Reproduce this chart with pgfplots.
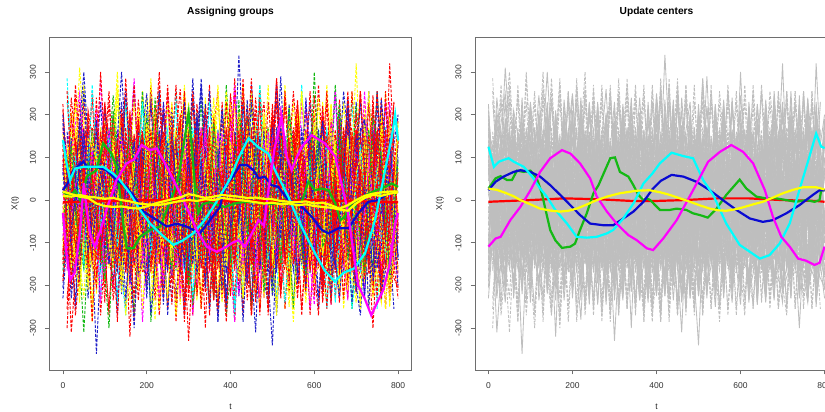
\documentclass[border=0pt]{standalone}
\usepackage{fontspec}
\setmainfont{Liberation Sans}
\usepackage{pgfplots}
\usepackage{pgfplotstable}
\pgfplotsset{compat=1.18}
\definecolor{rred}{RGB}{255,0,0}
\definecolor{ryellow}{RGB}{255,255,0}
\definecolor{rcyan}{RGB}{0,255,255}
\definecolor{rmagenta}{RGB}{255,0,255}
\definecolor{rgreen}{RGB}{20,185,20}
\definecolor{rblue}{RGB}{10,10,210}
\definecolor{bblue}{RGB}{30,30,200}
\definecolor{rgray}{RGB}{190,190,190}
\definecolor{rframe}{RGB}{110,110,110}

\pgfplotstableread{
0    -120 85 160 -45 210 -180 30 -95 140 -230  60 -15 190 -140 105 -70 225 -30 -165 75  120 -205 15 -110 170 -55 95 -150 45 200  -85 130 -10 -190 65 155 -125 20 -60 180
20   35 -150 90 170 -60 -20 -210 130 -75 50  185 -120 -40 240 -95 10 -175 115 60 -230  -15 145 -80 205 -135 25 -190 80 160 -45  110 -310 70 15 -110 -160 195 -30 125 -70
40   -200 40 -85 120 155 -130 75 -20 310 -110  -45 95 -170 30 180 -215 5 -90 140 -25  230 -60 -145 100 -5 165 -120 -70 20 -180  250 -35 -95 135 190 -15 55 -240 -130 85
60   150 -95 15 -160 80 210 -55 -185 20 130  -100 175 55 -60 -230 120 -25 195 -110 150  -70 40 185 -210 95 -140 60 175 -90 115  -20 -155 205 -45 10 -200 -75 145 90 -120
80   -40 180 -210 65 -15 95 160 40 -125 -60  215 -180 110 -5 30 -140 170 -220 85 -100  -35 190 -90 60 -175 240 -15 -45 130 -360  70 110 -135 -80 160 45 -200 100 -25 10
100  90 -30 125 -190 230 -70 -110 205 60 -170  -20 80 -240 145 -65 185 -95 50 -10 220  -150 -75 120 -20 35 -105 180 -205 -55 90  -170 15 -60 225 -120 100 145 -15 -185 65
120  -160 110 -5 45 -140 165 85 -120 190 15  -210 -50 150 -95 200 -35 60 -130 245 -60  70 -185 -25 155 -90 195 -235 30 100 -125  -40 165 -200 55 -15 -85 20 -150 210 -95
140  60 -220 175 -100 40 -15 -165 95 -45 230  120 -145 -70 185 -130 55 -200 140 10 -110  195 -30 80 -175 215 -5 -60 125 -215 45  150 -90 35 -140 300 -180 -40 110 -20 170
160  -85 135 -140 205 -120 -190 110 -15 165 -80  45 200 -130 -25 75 -235 125 -55 -150 180  -10 100 -205 40 -70 130 90 -320 50 -195  -65 210 -115 95 -40 135 -165 60 155 -45
180  195 -60 50 -25 175 80 -235 145 -105 -30  -180 -10 235 -165 -55 110 -40 215 -90 -5  -125 160 30 -80 190 -150 -20 185 -100 70  120 -205 150 -25 -175 -60 85 -210 -15 130
200  -25 210 -180 90 -55 145 20 -145 30 185  -75 -200 15 100 -210 170 -130 5 200 -160  85 -40 -110 245 -55 -175 140 -10 -35 250  -140 60 -75 175 -95 -125 -15 180 -90 -230
220  120 -115 -35 -205 110 -60 190 70 -195 -115  140 95 -160 -40 155 -95 220 -185 -60 125  -235 -90 175 -30 115 50 -130 150 -280 -70  30 -150 195 -10 60 210 -105 -55 240 40
240  -175 20 225 130 -150 -5 -85 -230 95 40  -20 -90 120 215 -30 -160 15 150 -205 -45  140 230 -55 -150 25 -215 205 -95 135 -15  -195 85 -5 -125 -245 10 160 -105 -55 195
260  45 -240 -70 -55 195 225 60 115 -150 -180  75 165 -65 -120 90 25 -155 -75 130 210  -100 -20 -170 100 -195 160 -45 30 -120 155  95 -245 110 40 130 -150 -60 230 -160 -25
280  -95 150 110 175 -210 -100 -175 -40 205 -5  -235 -30 185 60 -175 135 100 -215 -20 -135  180 55 145 -245 -10 -60 -150 200 15 -100  -225 75 -170 260 -35 -10 120 -70 85 -150
300  210 -45 -150 -105 35 160 125 -195 -55 115  180 -170 -110 -215 20 -55 -330 90 165 -25  -60 -175 10 65 140 -115 85 -190 230 -165  40 -35 135 -90 -140 185 -235 15 -200 100
320  -5 -175 185 -30 -125 -215 -20 170 -235 -155  25 120 50 135 -190 210 60 -145 -95 100  225 -110 -200 150 -80 20 -175 -35 -140 195  -90 150 -225 -50 205 -70 45 -185 35 -175
340  -215 95 -55 240 150 35 -140 -60 80 205  -130 -85 -195 -10 225 -110 -185 170 35 -205  -20 120 155 -135 -170 90 180 -115 -45 -20  175 -300 40 115 -155 -30 215 90 -115 55
360  140 -205 40 -160 -75 -125 195 15 -180 -50  165 35 110 -235 -70 85 140 -5 -230 165  -185 -50 -95 185 40 -235 -90 75 205 -120  -65 190 -140 -200 65 240 -150 -25 180 -100
380  -60 55 -230 85 185 230 -40 -170 150 105  -60 -220 -25 75 -140 -195 20 -160 120 -65  110 215 -35 -20 -230 140 -115 -210 -5 85  155 -45 95 -100 -210 -95 60 -240 -20 210
400  75 -130 155 -220 -35 -70 -225 110 -5 -205  240 85 -175 170 115 -10 -115 230 -145 30  -215 -130 185 -165 60 -40 250 125 -205 -145  -30 -120 -185 200 110 15 -175 135 -140 -65
420  -190 200 -100 20 120 90 85 -210 -120 60  -90 -135 140 -55 -225 180 205 -85 -5 -175  55 -15 -140 210 160 -190 25 -80 95 340  -225 120 160 -35 -55 -185 100 -105 235 15
440  170 -10 70 -120 -195 -165 150 -5 225 -135  -185 190 -10 -190 30 -150 -55 125 195 110  -125 170 -60 -90 -130 215 -160 160 -25 -50  90 -200 -30 135 235 85 -235 175 -80 -195
460  -20 -310 -195 145 60 175 -105 155 -80 170  115 -25 -230 95 -160 60 -190 -30 -100 -230  240 -95 95 -215 75 -65 140 -120 175 15  -165 40 210 -240 -130 -115 30 -60 125 145
480  -135 165 20 -70 -110 -40 -190 -125 110 -20  -50 -190 85 230 140 -225 135 -200 60 -85  -40 75 -230 130 -175 180 -75 -30 -230 165  140 -80 -150 70 -15 205 -120 200 -215 -30
500  225 -80 -215 185 200 15 30 -35 -225 -90  150 140 -135 -150 -75 125 -10 75 -215 185  -150 -225 160 40 210 -130 5 195 50 -190  -75 180 95 -180 170 -145 120 -135 60 -340
520  -70 110 120 -15 -165 -230 215 65 170 290  -205 45 170 -80 175 -20 -140 -120 145 5  100 -55 -75 -155 -40 -5 -210 -160 110 -65  220 -125 -220 35 -90 -20 -200 70 -150 120
540  55 -190 -125 -250 70 130 -65 -180 -35 -145  75 -215 -40 190 -115 -170 190 160 -75 -145  -185 185 20 225 -215 145 -95 80 -155 125  -20 5 125 -130 225 185 -50 -225 215 -85
560  -230 -15 200 80 -95 -95 -160 200 -160 15  -40 105 220 -95 45 215 -65 -165 175 130  160 -15 -185 -105 115 -220 170 -5 200 -170  -140 235 -60 225 -195 -45 180 35 -20 90
580  100 230 -60 -125 215 60 140 -80 95 -215  165 -160 -165 25 -210 -60 110 15 -5 -210  35 -170 230 -45 -145 60 -125 -220 -85 240  105 -190 165 -75 15 -240 -20 150 -175 -160
600  -55 -120 -245 165 -35 200 -25 140 -200 180  -125 -55 75 -190 155 170 -225 210 -135 65  -80 125 -20 180 20 -170 245 120 -30 -110  -200 50 -145 110 -120 70 -190 -195 300 40
620  165 45 90 -60 -175 -215 210 -235 230 -70  205 220 -215 150 -40 -135 165 -95 85 -105  195 -210 135 -130 -185 195 -15 -75 150 40  -60 -240 10 -205 185 -125 85 -90 -110 185
640  -175 -200 -15 225 125 -130 -110 15 -45 -185  -5 -100 125 -30 -185 40 -75 60 -240 175  -200 55 -245 85 95 -80 -105 190 -200 -230  180 130 -95 55 -50 225 -245 170 -45 -140
660  10 170 -165 -185 -60 95 55 -150 135 120  -230 140 -70 -240 210 -195 235 -225 150 -35  -25 -115 190 -220 -10 -25 105 -165 55 175  -20 -170 190 -155 -225 -10 115 -5 225 -70
680  230 -85 185 20 235 -20 -200 185 -115 -20  110 -200 185 85 -110 145 -30 145 -85 -180  125 240 -60 150 -230 210 -190 30 -110 -45  -235 -50 -190 255 10 -170 -125 -210 -140 215
700  -110 60 -70 -105 -80 165 165 -95 -240 230  -165 35 -145 -140 55 -70 -215 -40 220 -25  -205 -150 -130 -40 165 110 135 -210 320 125  125 -215 60 -45 145 -205 205 65 -5 -215
720  40 -230 -205 140 -130 -175 -135 60 200 -150  190 -175 5 200 -230 230 -145 195 -30 185  70 -35 255 -185 -90 -185 20 -100 -175 190  -40 155 -185 -85 -105 175 -165 130 -170 25
740  -300 140 100 -45 155 45 95 -225 -100 55  -15 -165 225 -100 170 -125 90 -115 -155 60  -210 165 -105 10 45 245 -220 140 -70 -190  195 -60 215 160 -155 -60 30 -230 190 -180
760  80 -40 -180 195 -180 -135 -185 220 50 -240  -195 180 -145 -60 -5 -215 150 -240 95 -215  180 -230 -55 205 -175 -165 160 100 -140 -15  -160 240 -30 -195 235 175 -230 -40 100 -110
780  155 205 230 -250 65 210 -60 -20 -205 90  150 -25 -190 140 -195 180 -160 70 -185 -110  -55 30 185 -130 205 -70 -105 -235 195 60  -100 -150 -215 -35 30 -240 320 -195 -170 145
800  -100 -140 -60 75 -210 -60 190 -130 175 -130  -60 65 140 -175 100 -30 -205 -165 150 130  -155 -90 -70 160 -40 -230 55 -85 -45 200  -180 65 -40 135 -200 -25 -80 185 95 -140
}\bg

\pgfplotstableread{
10   -60 120 -150 30 230 -95 5 140 -255 70  110 -40 -130 285 -10 -165 85 -75 150 -120  25 -300 90 160 -55 40 -140 105 -20 -230  130 65 -90 -5 255 -115 50 -160 15 95
30   140 -75 60 -135 -20 160 -240 15 95 -110  -165 80 35 -60 145 110 -125 270 -35 10  -95 135 -170 -25 120 -150 55 -45 240 20  -60 -255 230 100 -140 35 -15 125 -105 -270
50   -25 230 -110 85 -160 40 130 -310 -40 155  20 -135 270 -90 -65 15 150 -30 -145 170  95 -10 -85 255 -130 75 300 -160 -70 115  -230 140 -35 -150 60 -95 165 -20 80 -45
70   100 -140 170 -60 50 -285 -35 90 135 -15  -240 160 -70 30 255 -120 -50 110 65 -155  -45 240 140 -100 10 -255 -25 165 -120 -60  150 -10 -160 270 -85 125 -110 55 -285 30
90   -155 30 -45 160 -110 115 230 -80 -270 90  140 -25 95 -170 -40 285 -135 -10 -100 60  170 -130 -5 45 -230 135 -95 -30 300 -145  20 95 130 -65 -120 -240 80 -135 160 115
110  55 -270 125 -15 145 -50 -120 170 20 -140  -60 105 -160 130 80 -90 40 -255 230 -25  -110 60 255 -150 95 -20 160 -300 -55 130  -135 -45 -10 150 40 170 -150 85 -70 -5
130  -120 85 -20 -230 -75 270 60 -140 145 30  230 -270 50 -30 -135 165 -105 75 -65 140  15 -160 -115 120 -240 300 -40 90 105 -90  255 -165 120 -110 -25 -60 95 -285 135 -150
150  230 -30 -150 100 -270 -25 -165 45 -110 255  30 90 -95 230 -150 -10 255 -125 100 -170  -140 150 25 -45 140 -110 -255 55 -160 285  -85 30 -270 65 135 -15 -230 170 -35 80
170  -40 150 95 -120 130 -165 115 -270 60 -75  -115 -150 240 -85 10 135 -60 155 -285 50  120 -30 -230 270 -20 85 135 -115 40 -60  100 -300 45 -30 -160 285 30 -80 270 -125
190  90 -170 -60 255 -35 145 -85 110 -160 155  255 -45 -120 20 160 -285 -20 -135 45 -105  -255 105 150 -130 230 -60 -95 255 -140 10  -165 120 -140 230 85 -150 145 -45 -110 160
210  -240 40 165 -45 95 -120 255 -60 230 -100  -90 230 10 -150 -170 70 -155 100 -80 270  55 -165 -40 75 -135 170 45 -285 125 -155  60 -85 285 -120 -35 120 -270 165 20 -60
230  120 -110 -255 80 -150 55 -30 255 -75 20  135 -120 -230 145 50 -110 170 -270 150 -45  -120 270 -150 -10 110 -255 160 -20 -90 230  -130 255 -55 40 155 -230 -25 -140 300 -15
250  -95 270 35 -150 230 -240 -140 -15 120 -170  -35 60 130 -60 -255 240 -85 25 -160 95  230 -90 120 -165 -40 130 -270 140 60 -110  160 -40 -230 165 -95 50 135 -30 -150 255
270  160 -65 -140 120 -90 130 95 -165 -240 140  170 -240 -40 255 120 -150 45 -125 110 -255  -60 35 -285 145 230 -15 80 -155 -120 40  -270 110 100 -130 20 -160 -85 270 55 -140
290  -20 140 230 -240 45 -70 -270 120 30 -285  -150 90 255 -110 -140 100 -165 240 -45 65  135 -150 60 -80 -170 270 -130 20 255 -230  70 -160 -120 15 -270 145 230 -110 -135 95
310  240 -270 -95 40 -230 160 115 -40 -150 75  60 -135 -65 170 145 -270 140 -70 -230 240  -165 125 -30 285 40 -140 -20 -240 -75 135  -110 230 40 -230 110 -45 -150 130 255 -35
330  -130 65 -20 270 115 -135 -160 230 145 -50  -230 285 -120 -35 -95 55 -30 155 -120 -140  70 -255 170 -100 -145 85 255 -95 150 -60  165 -45 -255 125 -160 170 95 -255 -60 150
350  60 -145 270 -120 -30 75 255 -135 -75 170  140 -60 100 -255 170 -170 125 -165 80 20  -140 160 -95 130 230 -240 -110 145 -270 110  -40 -140 150 -60 45 -130 -255 85 140 -240
370  -255 165 -130 50 165 -255 -50 100 -270 -120  20 150 -230 130 -60 140 -285 90 255 -95  240 -45 125 -285 -65 145 35 -130 95 -255  270 80 -95 -150 -140 160 120 -160 -25 75
390  130 -40 55 -255 -140 120 -165 -270 165 95  -140 -170 230 20 -255 -40 160 -150 -125 170  -75 110 -230 60 150 -90 -160 270 -140 165  -155 -255 255 105 230 -65 -230 130 -285 10
410  -60 255 -230 160 85 -20 135 -75 -125 -285  255 45 -90 -160 125 -285 -75 285 40 -150  130 -270 40 -140 -255 230 120 -50 255 -30  95 130 -35 -270 -100 270 60 -145 150 -165
430  170 -130 115 -70 -230 270 -255 145 60 130  -90 -145 160 230 -30 155 -160 -120 -270 105  -230 150 -155 230 30 -135 -285 120 -60 -170  -165 40 -230 135 285 -150 -105 170 -35 255
450  -150 60 -270 140 230 -110 45 -165 -240 -50  165 270 -130 -95 -140 -85 255 40 170 -270  120 -55 165 -120 -140 255 75 -255 150 90  230 -240 120 -55 -150 85 230 -270 285 -110
470  45 -255 150 -160 -65 155 -140 270 120 230  -255 -20 80 145 240 -230 -40 -170 -75 150  -80 255 -270 95 160 -65 -140 60 -255 -135  -95 150 -240 270 70 -230 -120 135 -140 60
490  -230 140 -40 115 -255 -150 170 -60 -140 -130  120 -170 -255 -50 -120 130 150 95 -160 -40  270 -130 100 -230 -105 150 -240 170 85 230  140 -75 170 -140 -255 160 40 -125 105 -270
510  140 -115 255 -270 120 75 -130 150 65 90  -80 135 140 -230 230 -60 -255 -150 120 285  -155 60 -160 170 -40 -270 145 -110 -150 -20  -255 270 -55 40 145 -140 -170 285 -75 130
530  -40 230 -150 60 -95 -255 110 -20 -130 45  270 -55 -25 150 -140 80 15 -40 -255 -100  130 -65 255 -10 90 120 -100 35 240 -125  95 -130 5 -240 -60 70 150 -40 110 -150
550  85 -60 40 165 -20 120 -255 75 155 -30  -140 -5 230 -120 25 -150 -60 170 40 -75  -255 140 -15 -165 50 -55 105 -255 -80 150  -20 65 -285 10 255 -120 -90 -35 -150 35
570  -130 90 -85 -40 -95 15 160 -150 30 -140  50 165 -90 270 -65 230 -30 -135 -25 120  50 -270 85 40 -160 255 -65 100 75 -55  255 -150 60 -60 15 100 -10 120 65 -255
590  55 -270 130 100 -15 90 -110 85 -165 75  -90 -60 150 -55 140 -45 230 -100 150 -50  -110 65 -160 -80 -170 -40 120 -85 -110 255  -45 160 -140 90 -50 -255 -35 -170 130 40
610  -95 70 -55 -255 160 -145 85 -20 270 -50  120 80 -75 125 -125 90 -150 75 -130 -5  240 -80 40 130 -15 165 -230 150 90 -120  75 -85 110 -130 -270 45 165 30 -85 -160
630  270 -150 75 45 20 -240 -50 160 -40 255  -70 -140 30 -255 90 -65 -110 150 75 -85  -150 90 -255 -50 130 -120 50 -60 -170 80  -160 155 -75 170 150 -30 -90 -145 40 230
650  -50 120 -170 -120 -85 60 110 -75 165 -120  75 -50 -150 60 -170 80 255 -70 -160 130  60 -230 150 80 -65 130 -160 270 40 -70  120 -70 140 -240 -50 255 -150 80 -60 -140
670  230 -85 110 90 150 -140 -80 130 -240 60  -150 255 -75 -40 160 -150 -70 -145 140 -90  -85 50 -170 -165 150 -255 80 -40 -230 150  -75 40 -160 50 85 -160 85 -150 170 80
690  -65 140 -90 -150 -30 255 150 -255 20 -160  90 50 -145 230 -75 70 -130 255 -85 20  150 -160 90 65 -255 40 -150 80 150 -65  160 -240 75 -65 -140 75 -30 160 -40 -170
710  150 -70 165 -45 85 -55 -165 60 -150 255  -85 -140 60 -170 140 -80 -270 -60 150 -45  -60 255 -40 -255 -65 -240 170 -155 -80 145  -50 65 -255 130 70 -140 230 -85 255 60
730  -255 65 -140 -80 -150 170 85 -40 230 -130  65 255 -75 140 -60 150 65 230 -170 90  255 -50 85 160 40 80 -255 165 50 -85  85 -160 150 -85 -160 90 -60 150 -150 -75
750  60 -140 85 230 160 -85 -50 255 -70 150  -150 -70 140 -255 85 -160 -75 -85 160 -40  -70 160 -65 -150 -80 -50 140 -85 -230 160  -65 255 -40 75 255 -85 -160 -70 170 40
770  -140 85 -60 -145 -75 140 230 -50 90 -255  255 50 -255 60 -150 230 150 60 -85 170  160 -85 150 80 170 90 -65 40 255 -150  60 -150 90 -140 -75 160 85 165 -85 -160
790  75 -160 140 90 30 -165 -140 75 -150 60  -75 -255 65 -140 230 -40 -85 -150 50 -85  -85 230 -40 -65 -150 -75 160 -65 -150 85  -140 70 -65 160 60 -150 -40 -85 165 75
}\bgb

\pgfplotsset{
  rpanel/.style={
    scale only axis, width=362pt, height=333pt, anchor=south west,
    xmin=-32, xmax=832, ymin=-398, ymax=382,
    xtick={0,200,400,600,800}, ytick={-300,-200,-100,0,100,200,300},
    tick pos=left, tick align=outside, major tick length=4.5pt,
    axis line style={rframe, line width=0.8pt},
    tick style={rframe, line width=0.8pt},
    /pgf/number format/assume math mode=true,
    tick label style={font=\fontsize{8.5}{10}\selectfont, text=black!80},
    xticklabel style={anchor=center}, xticklabel shift=11pt,
    yticklabel style={rotate=90, anchor=center}, yticklabel shift=12pt,
    label style={font=\fontsize{8.5}{10}\selectfont, text=black!85},
    title style={font=\bfseries\fontsize{10.2}{12}\selectfont, at={(0.5,1)}, anchor=base, yshift=17pt},
    xlabel={t}, ylabel={X(t)},
    xlabel style={at={(axis description cs:0.5,-0.111)}, anchor=center},
    ylabel style={at={(axis description cs:-0.095,0.5)}, anchor=center},
  },
}

\begin{document}
\begin{tikzpicture}
\begin{axis}[rpanel, at={(49.5pt,42pt)}, title={Assigning groups},
  cycle list={rred\\ryellow\\bblue\\rred\\rmagenta\\rred\\ryellow\\bblue\\rred\\rcyan\\rred\\ryellow\\rred\\bblue\\rred\\rgreen\\ryellow\\rred\\bblue\\rred\\rmagenta\\ryellow\\rred\\bblue\\rred\\ryellow\\rred\\rcyan\\bblue\\rred\\ryellow\\rmagenta\\rred\\bblue\\ryellow\\rred\\rgreen\\rred\\bblue\\rred\\}]
\pgfplotsinvokeforeach{1,2,...,40}{
  \addplot+[mark=none, line width=0.95pt, dash pattern=on 3pt off 1.5pt] table[x index=0, y index=#1] {\bg};
  \addplot+[mark=none, line width=0.95pt, dash pattern=on 3pt off 1.5pt] table[x index=0, y index=#1] {\bgb};
}
\addplot[rred, line width=2.2pt] coordinates {(0,-5)(200,0)(400,-3)(600,0)(800,-5)};
\addplot[rgreen, line width=2.2pt] coordinates {(0,20)(17,8)(29,23)(41,0)(57,55)(80,70)(96,133)(116,109)(128,78)(136,16)(144,-55)(152,-113)(168,-113)(184,-86)(208,-70)(232,-62)(248,-23)(264,16)(279,70)(291,148)(300,205)(308,120)(316,20)(323,-31)(333,-10)(350,-5)(370,-12)(387,-16)(410,-8)(435,-4)(460,-5)(490,-10)(514,-8)(545,-10)(570,-4)(586,43)(602,23)(618,27)(634,23)(650,-8)(662,-47)(673,-39)(689,-8)(710,5)(740,20)(769,31)(785,39)(800,31)};
\addplot[rblue, line width=2.2pt] coordinates {(0,23)(12,40)(25,70)(49,90)(57,78)(80,78)(104,70)(128,47)(152,31)(176,0)(192,-27)(224,-47)(248,-62)(272,-55)(295,-62)(327,-78)(351,-47)(375,-16)(385,30)(403,51)(423,82)(439,82)(455,70)(467,51)(482,55)(498,35)(514,31)(538,0)(562,-8)(594,-39)(618,-70)(634,-78)(658,-66)(682,-66)(705,-31)(729,-4)(753,0)(777,16)(800,20)};
\addplot[rcyan, line width=2.2pt] coordinates {(0,141)(8,90)(17,47)(29,74)(49,78)(72,78)(96,78)(120,62)(136,47)(160,16)(184,-23)(208,-55)(232,-78)(264,-105)(287,-94)(311,-78)(335,-51)(359,-16)(383,23)(399,50)(420,100)(443,145)(465,125)(490,109)(506,70)(538,8)(562,-47)(586,-94)(602,-125)(625,-165)(649,-191)(670,-170)(695,-160)(721,-125)(745,-47)(769,70)(785,148)(793,200)(800,140)};
\addplot[rmagenta, line width=2.2pt] coordinates {(0,-30)(8,-120)(17,-187)(28,-170)(40,-80)(50,40)(55,-10)(65,-80)(76,-110)(90,-70)(104,-23)(128,47)(152,86)(170,95)(188,129)(208,117)(224,121)(248,78)(272,31)(295,-16)(319,-70)(343,-109)(367,-121)(391,-109)(405,-100)(419,-94)(435,-109)(451,-78)(467,-47)(480,-60)(490,20)(505,120)(522,195)(534,102)(546,70)(558,100)(570,125)(594,152)(625,133)(650,102)(662,51)(678,-16)(694,-125)(705,-200)(720,-230)(736,-270)(750,-240)(765,-210)(780,-150)(792,-60)(800,-30)};
\addplot[ryellow, line width=2.2pt] coordinates {(0,20)(20,14)(40,8)(60,5)(80,-8)(100,-14)(120,-16)(140,-15)(160,-18)(180,-20)(200,-15)(220,-8)(240,-3)(260,2)(280,6)(300,14)(320,10)(340,5)(360,8)(380,12)(400,10)(420,8)(440,5)(460,6)(480,3)(500,2)(520,-2)(540,-4)(560,-5)(580,-3)(600,-8)(620,-6)(640,-12)(660,-20)(680,-12)(700,0)(720,10)(740,15)(760,18)(780,20)(800,20)};
\addplot[ryellow, line width=2.2pt] coordinates {(0,10)(20,8)(40,12)(60,8)(80,6)(100,3)(120,5)(140,0)(160,-3)(180,-8)(200,-10)(220,-12)(240,-10)(260,-6)(280,-2)(300,0)(320,-2)(340,2)(360,0)(380,5)(400,2)(420,0)(440,-2)(460,-5)(480,-8)(500,-6)(520,-10)(540,-8)(560,-12)(580,-10)(600,-14)(620,-16)(640,-18)(660,-22)(680,-25)(700,-8)(720,5)(740,12)(760,10)(780,15)(800,18)};
\end{axis}

\begin{axis}[rpanel, at={(475pt,42pt)}, width=363pt, title={Update centers},
  ylabel style={at={(axis description cs:-0.0964,0.5)}, anchor=center},
  cycle list={rgray,solid\\rgray,dash pattern=on 3pt off 1.5pt\\}]
\pgfplotsinvokeforeach{1,2,...,40}{
  \addplot+[mark=none, line width=0.85pt] table[x index=0, y index=#1] {\bg};
  \addplot+[mark=none, line width=0.85pt] table[x index=0, y index=#1] {\bgb};
}
\addplot[rred, line width=2.2pt] coordinates {(0,-4)(100,0)(180,4)(260,2)(340,-2)(400,-2)(465,0)(545,4)(620,4)(700,0)(780,-2)(800,-4)};
\addplot[rgreen, line width=2.2pt] coordinates {(0,27)(17,51)(29,56)(44,47)(56,47)(68,69)(84,66)(100,69)(115,51)(127,16)(136,-23)(147,-70)(159,-94)(175,-112)(195,-109)(206,-102)(218,-70)(234,-31)(250,16)(262,35)(274,62)(290,98)(301,100)(313,66)(333,55)(345,35)(357,12)(369,0)(377,4)(385,0)(408,-23)(432,-23)(448,-20)(471,-23)(487,-31)(503,-35)(522,-41)(543,-20)(566,12)(598,48)(614,27)(638,8)(661,4)(685,4)(709,0)(732,-4)(756,0)(776,-4)(788,0)(792,23)(800,23)};
\addplot[rblue, line width=2.2pt] coordinates {(0,23)(17,43)(36,55)(60,66)(76,70)(100,66)(123,55)(147,35)(171,12)(195,-12)(218,-35)(242,-55)(274,-59)(297,-59)(321,-43)(345,-27)(369,-4)(390,25)(410,45)(436,59)(464,55)(495,43)(527,23)(558,0)(590,-23)(622,-43)(653,-51)(677,-47)(709,-31)(740,-12)(772,12)(788,23)(800,23)};
\addplot[rcyan, line width=2.2pt] coordinates {(0,125)(13,78)(25,90)(36,94)(48,98)(60,90)(84,78)(104,55)(123,27)(139,8)(159,-23)(187,-55)(210,-86)(234,-88)(258,-86)(282,-78)(297,-70)(321,-43)(345,-8)(369,39)(390,62)(408,86)(436,111)(464,103)(487,98)(511,47)(535,12)(566,-55)(598,-105)(646,-137)(669,-129)(693,-102)(717,-55)(740,23)(764,102)(780,156)(792,125)(800,122)};
\addplot[rmagenta, line width=2.2pt] coordinates {(0,-109)(17,-90)(29,-86)(52,-47)(76,-16)(100,23)(123,66)(147,98)(175,117)(195,109)(218,86)(242,51)(258,8)(282,-27)(305,-55)(333,-82)(353,-94)(377,-113)(392,-117)(416,-90)(448,-47)(487,23)(523,90)(551,113)(578,129)(606,113)(630,86)(658,23)(677,-39)(697,-86)(717,-109)(737,-137)(756,-142)(776,-152)(788,-147)(800,-109)};
\addplot[ryellow, line width=2.2pt] coordinates {(0,27)(20,24)(40,17)(60,9)(76,0)(100,-10)(123,-20)(150,-25)(171,-27)(190,-25)(210,-20)(235,-10)(258,0)(285,9)(313,16)(353,22)(384,23)(410,18)(432,12)(456,4)(480,-4)(505,-13)(527,-20)(547,-24)(566,-25)(585,-22)(606,-17)(630,-10)(653,-4)(680,7)(701,16)(725,24)(748,30)(780,30)(800,25)};
\end{axis}
\pgfresetboundingbox
\path[use as bounding box] (0,0) rectangle (825pt,412pt);
\end{tikzpicture}
\end{document}
